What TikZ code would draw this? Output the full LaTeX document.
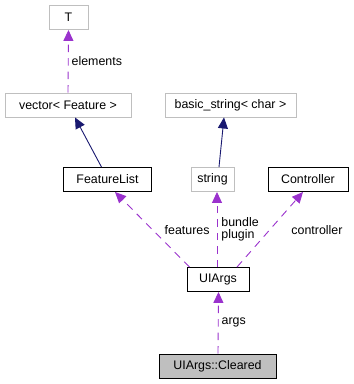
\documentclass[tikz,border=0pt]{standalone}
\usepackage{fontspec}
\setmainfont{Liberation Sans}
\usetikzlibrary{arrows.meta}
\definecolor{edgegray}{HTML}{BFBFBF}
\definecolor{usecolor}{HTML}{9A32CD}
\definecolor{inhcolor}{HTML}{191970}
\begin{document}
\begin{tikzpicture}[x=1pt,y=-1pt,
  font=\fontsize{12.4pt}{14pt}\selectfont,
  cls/.style={draw=black,fill=white,minimum height=24pt,inner xsep=5pt,inner ysep=0pt,line width=0.9pt},
  ext/.style={cls,draw=edgegray},
  main/.style={cls,fill=edgegray},
  uses/.style={draw=usecolor,line width=0.9pt,dash pattern=on 7.5pt off 6pt,
    -{Triangle[length=11pt,width=10pt]},shorten >=0pt},
  inherit/.style={draw=inhcolor,line width=0.9pt,-{Triangle[length=11pt,width=10pt]}},
  lbl/.style={inner sep=0pt,anchor=west,align=left}]
\useasboundingbox (0,0) rectangle (354,384);

% class boxes
\node[ext, minimum width=39pt] (T) at (68.5,17.5) {T};
\node[ext, minimum width=126pt] (vec) at (68,105) {vector< Feature >};
\node[ext, minimum width=131pt] (bstr) at (230.5,105) {basic\_string< char >};
\node[cls, minimum width=88pt] (fl) at (107.5,179.5) {FeatureList};
\node[ext, minimum width=43pt] (str) at (212.5,179.5) {string};
\node[cls, minimum width=80pt] (ctrl) at (308,179.5) {Controller};
\node[cls, minimum width=62pt] (ui) at (218,279.5) {UIArgs};
\node[main, minimum width=117pt] (cl) at (217.5,366) {UIArgs::Cleared};

% inheritance
\draw[inherit] ([xshift=-6pt]fl.north) -- ([xshift=7pt]vec.south);
\draw[inherit] ([xshift=6.5pt]str.north) -- ([xshift=-6.5pt]bstr.south);

% usage relations
\draw[uses] (vec.north) -- (T.south) node[lbl,pos=0.5,xshift=3pt] {elements};
\draw[uses] ([xshift=3pt]ui.north west) -- ([xshift=7.5pt]fl.south)
  node[lbl,pos=0.5,xshift=12pt,yshift=-1pt] {features};
\draw[uses] ([xshift=-1pt]ui.north) -- ([xshift=4.5pt]str.south)
  node[lbl,pos=0.5,xshift=4pt,font=\fontsize{12.4pt}{12pt}\selectfont] {bundle\\plugin};
\draw[uses] ([xshift=19pt]ui.north) -- ([xshift=-5pt]ctrl.south)
  node[lbl,pos=0.5,xshift=21pt,yshift=-1pt] {controller};
\draw[uses] ([xshift=0.5pt]cl.north) -- ([xshift=0.5pt]ui.south)
  node[lbl,pos=0.5,xshift=3pt] {args};
\end{tikzpicture}
\end{document}
